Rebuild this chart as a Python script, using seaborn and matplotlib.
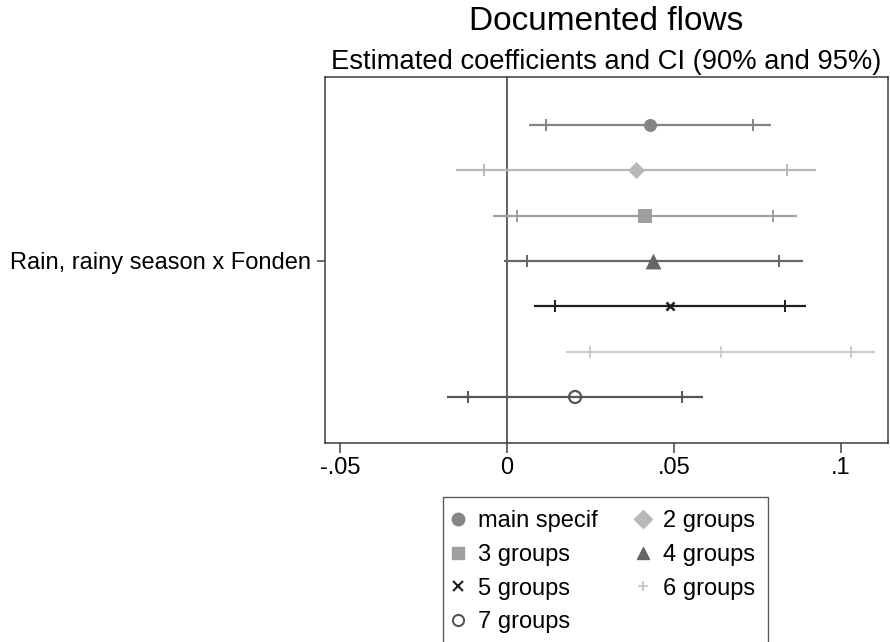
import numpy as np
import pandas as pd
import seaborn as sns
import matplotlib
matplotlib.use("Agg")
import matplotlib.pyplot as plt
from matplotlib.lines import Line2D

# Estimates
models = ['main specif', '2 groups', '3 groups', '4 groups', '5 groups', '6 groups', '7 groups']
coef = [0.0429, 0.0386, 0.0415, 0.0439, 0.0489, 0.0640, 0.0204]
lo90 = [0.0117, -0.0068, 0.0031, 0.0061, 0.0145, 0.0249, -0.0118]
hi90 = [0.0737, 0.0840, 0.0797, 0.0815, 0.0832, 0.1031, 0.0526]
lo95 = [0.0066, -0.0153, -0.0041, -0.0010, 0.0081, 0.0176, -0.0179]
hi95 = [0.0791, 0.0925, 0.0868, 0.0886, 0.0896, 0.1104, 0.0587]
xticks = [-0.05, 0, 0.05, 0.1]
xtick_labels = ['-.05', '0', '.05', '.1']
category = 'Rain, rainy season x Fonden'

# styling per model
colors = ['#858585', '#b8b8b8', '#9f9f9f', '#666666', '#1e1e1e', '#cccccc', '#555555']
marks = ['o', 'D', 's', '^', 'x', '+', 'o']
sizes = [88, 75, 88, 130, 34, 75, 75]

df = pd.DataFrame({'model': models, 'coef': coef, 'lo90': lo90, 'hi90': hi90,
                   'lo95': lo95, 'hi95': hi95})
df['row'] = np.arange(1, len(df) + 1)

sns.set_style('ticks')
plt.rcParams['font.family'] = ['Liberation Sans', 'DejaVu Sans']
plt.rcParams['text.color'] = 'black'

fig = plt.figure(figsize=(8.9, 6.42), dpi=100)
ax = fig.add_axes([325 / 890, 1 - 443 / 642, (888 - 325) / 890, (443 - 77) / 642])

ax.axvline(0, color='#555555', lw=1.3, zorder=1)

for i, r in df.iterrows():
    c = colors[i]
    ax.hlines(r['row'], r['lo95'], r['hi95'], color=c, lw=1.6, zorder=2)
    ax.plot([r['lo90'], r['hi90']], [r['row'], r['row']], ls='none', marker='|',
            ms=9, mew=1.4, color=c, zorder=3)
    if i == 6:
        sns.scatterplot(x=[r['coef']], y=[r['row']], marker=marks[i], s=sizes[i],
                        facecolor='none', edgecolor=c, linewidth=1.6, ax=ax, zorder=4)
    elif marks[i] in ('x', '+'):
        sns.scatterplot(x=[r['coef']], y=[r['row']], marker=marks[i], s=sizes[i],
                        color=c, linewidth=1.8 if marks[i] == 'x' else 1.3, ax=ax, zorder=4)
    else:
        sns.scatterplot(x=[r['coef']], y=[r['row']], marker=marks[i], s=sizes[i],
                        color=c, linewidth=0, ax=ax, zorder=4)

ax.set_xlim(-0.05456, 0.1142)
ax.set_ylim(8.015, -0.059)
ax.set_xticks(xticks)
ax.set_xticklabels(xtick_labels, fontsize=17)
ax.set_yticks([4])
ax.set_yticklabels([category], fontsize=17)
ax.set_xlabel('')
ax.set_ylabel('')
ax.tick_params(axis='x', length=7, width=1.1, color='#444444', pad=3, labelcolor='black')
ax.tick_params(axis='y', length=6, width=1.1, color='#444444', pad=4, labelcolor='black')
for sp in ax.spines.values():
    sp.set_visible(True)
    sp.set_color('#3a3a3a')
    sp.set_linewidth(1.1)

xc = (325 + 888) / 2 / 890
fig.text(xc, 1 - 21 / 642, 'Documented flows', ha='center', va='center', fontsize=24)
fig.text(xc, 1 - 62 / 642, 'Estimated coefficients and CI (90% and 95%)',
         ha='center', va='center', fontsize=19.7)

# legend, filled row by row like the original
handles = []
for i in range(len(models)):
    if i == 6:
        h = Line2D([], [], ls='none', marker='o', ms=8, mfc='none', mec=colors[i], mew=1.5)
    elif marks[i] in ('x', '+'):
        h = Line2D([], [], ls='none', marker=marks[i], ms=7, color=colors[i], mew=1.5)
    else:
        h = Line2D([], [], ls='none', marker=marks[i], ms=9, color=colors[i], mec=colors[i])
    handles.append(h)
order = [0, 2, 4, 6, 1, 3, 5]
leg = fig.legend([handles[k] for k in order], [models[k] for k in order], ncol=2,
                 loc='upper left', bbox_to_anchor=(443 / 890, 1 - 497 / 642),
                 fontsize=17, frameon=True, fancybox=False, edgecolor='#333333',
                 borderaxespad=0, borderpad=0.55, handlelength=0.2,
                 handletextpad=0.75, columnspacing=1.8, labelspacing=0.5)
leg.get_frame().set_linewidth(1.0)

fig.savefig('out.png', dpi=100)
